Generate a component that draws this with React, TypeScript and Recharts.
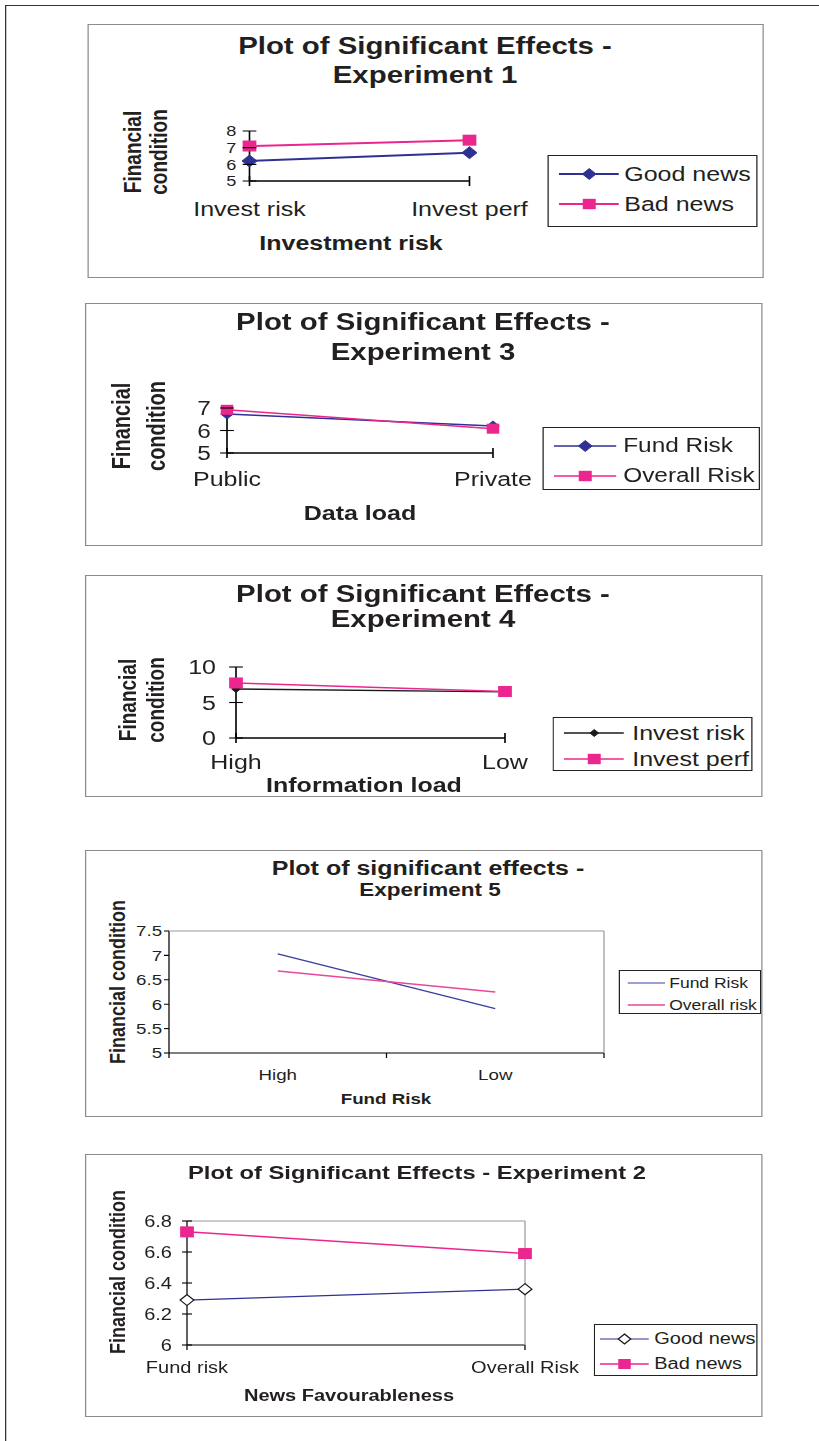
import React from 'react';
import { LineChart, Line, XAxis, YAxis } from 'recharts';

// the scanned figure is stretched sideways, so everything is drawn narrow and scaled by S
const S = 1.25;
const FONT = '"Liberation Sans", Arial, Helvetica, sans-serif';
const INK = '#231f20';
const NAVY = '#2e3192';
const MAGENTA = '#ec268f';

// Experiment 1
const exp1Categories = ['Invest risk', 'Invest perf'];
const exp1GoodNews = [6.2, 6.7];
const exp1BadNews = [7.1, 7.45];
const exp1Ticks = [5, 6, 7, 8];

// Experiment 3
const exp3Categories = ['Public', 'Private'];
const exp3FundRisk = [6.73, 6.2];
const exp3OverallRisk = [6.92, 6.08];
const exp3Ticks = [5, 6, 7];

// Experiment 4
const exp4Categories = ['High', 'Low'];
const exp4InvestRisk = [6.9, 6.5];
const exp4InvestPerf = [7.75, 6.55];
const exp4Ticks = [0, 5, 10];

// Experiment 5
const exp5Categories = ['High', 'Low'];
const exp5FundRisk = [7.03, 5.91];
const exp5OverallRisk = [6.68, 6.25];
const exp5Ticks = [5, 5.5, 6, 6.5, 7, 7.5];

// Experiment 2
const exp2Categories = ['Fund risk', 'Overall Risk'];
const exp2GoodNews = [6.29, 6.36];
const exp2BadNews = [6.73, 6.59];
const exp2Ticks = [6, 6.2, 6.4, 6.6, 6.8];

type Box = { l: number; t: number; r: number; b: number };
type Kind = 'diamond' | 'square' | 'hollow' | 'none';
type Series = { name: string; values: number[]; color: string; width: number; kind: Kind; size: number; legendSize: number };
type Label = { text: string; x: number; y: number; size: number };
type Panel = {
  box: Box;
  plot: Box;
  categories: string[];
  series: Series[];
  domain: [number, number];
  ticks: number[];
  framed: boolean;
  banded: boolean;
  tickFont: number;
  yTickFont: number;
  yOut: number;
  yIn: number;
  yGap: number;
  xUp: number;
  xDown: number;
  xDy: number;
  axisWidth: number;
  titles: Label[];
  xTitle: Label;
  yTitles: Label[];
  legend: { box: Box; rows: number[]; lineL: number; lineR: number; textX: number; size: number };
};

const panels: Panel[] = [
  {
    box: { l: 88, t: 24, r: 764, b: 278 },
    plot: { l: 250, t: 131, r: 470, b: 181 },
    categories: exp1Categories,
    series: [
      { name: 'Good news', values: exp1GoodNews, color: NAVY, width: 2, kind: 'diamond', size: 6, legendSize: 5.5 },
      { name: 'Bad news', values: exp1BadNews, color: MAGENTA, width: 2, kind: 'square', size: 5.5, legendSize: 5.2 },
    ],
    domain: [5, 8],
    ticks: exp1Ticks,
    framed: false,
    banded: false,
    tickFont: 20,
    yTickFont: 14.5,
    yOut: 5.5,
    yIn: 5.5,
    yGap: 10.5,
    xUp: 5,
    xDown: 5,
    xDy: 28,
    axisWidth: 1.3,
    titles: [
      { text: 'Plot of Significant Effects -', x: 425, y: 47, size: 23.5 },
      { text: 'Experiment 1', x: 425, y: 76, size: 23.5 },
    ],
    xTitle: { text: 'Investment risk', x: 351, y: 243, size: 20 },
    yTitles: [
      { text: 'Financial', x: 132, y: 152, size: 19 },
      { text: 'condition', x: 159, y: 152, size: 19 },
    ],
    legend: { box: { l: 548, t: 155, r: 758, b: 227 }, rows: [173, 203], lineL: 557, lineR: 618, textX: 623, size: 20 },
  },
  {
    box: { l: 85, t: 303, r: 763, b: 546 },
    plot: { l: 227, t: 408, r: 493, b: 453 },
    categories: exp3Categories,
    series: [
      { name: 'Fund Risk', values: exp3FundRisk, color: NAVY, width: 1.6, kind: 'diamond', size: 5, legendSize: 5.5 },
      { name: 'Overall Risk', values: exp3OverallRisk, color: MAGENTA, width: 1.6, kind: 'square', size: 5, legendSize: 5.2 },
    ],
    domain: [5, 7],
    ticks: exp3Ticks,
    framed: false,
    banded: false,
    tickFont: 20,
    yTickFont: 19.5,
    yOut: 5.5,
    yIn: 5.5,
    yGap: 13,
    xUp: 5,
    xDown: 5,
    xDy: 26,
    axisWidth: 1.3,
    titles: [
      { text: 'Plot of Significant Effects -', x: 423, y: 323, size: 23.5 },
      { text: 'Experiment 3', x: 423, y: 353, size: 23.5 },
    ],
    xTitle: { text: 'Data load', x: 360, y: 513, size: 20 },
    yTitles: [
      { text: 'Financial', x: 121, y: 426, size: 20 },
      { text: 'condition', x: 156, y: 426, size: 20 },
    ],
    legend: { box: { l: 543, t: 427, r: 760, b: 490 }, rows: [445, 475], lineL: 552, lineR: 615, textX: 622, size: 19.5 },
  },
  {
    box: { l: 85, t: 575, r: 763, b: 797 },
    plot: { l: 236, t: 667, r: 505, b: 738 },
    categories: exp4Categories,
    series: [
      { name: 'Invest risk', values: exp4InvestRisk, color: '#1a1a1a', width: 1.3, kind: 'diamond', size: 3.5, legendSize: 3.5 },
      { name: 'Invest perf', values: exp4InvestPerf, color: MAGENTA, width: 1.6, kind: 'square', size: 5.5, legendSize: 5.2 },
    ],
    domain: [0, 10],
    ticks: exp4Ticks,
    framed: false,
    banded: false,
    tickFont: 20,
    yTickFont: 20,
    yOut: 5.5,
    yIn: 5.5,
    yGap: 16,
    xUp: 5,
    xDown: 5,
    xDy: 24,
    axisWidth: 1.3,
    titles: [
      { text: 'Plot of Significant Effects -', x: 423, y: 595, size: 23.5 },
      { text: 'Experiment 4', x: 423, y: 620, size: 23.5 },
    ],
    xTitle: { text: 'Information load', x: 364, y: 785, size: 20 },
    yTitles: [
      { text: 'Financial', x: 127, y: 700, size: 19 },
      { text: 'condition', x: 156, y: 700, size: 19 },
    ],
    legend: { box: { l: 553, t: 717, r: 753, b: 771 }, rows: [732, 758], lineL: 562, lineR: 623, textX: 631, size: 20 },
  },
  {
    box: { l: 85, t: 850, r: 763, b: 1117 },
    plot: { l: 169, t: 931, r: 604, b: 1053 },
    categories: exp5Categories,
    series: [
      { name: 'Fund Risk', values: exp5FundRisk, color: '#3a40a0', width: 1.2, kind: 'none', size: 0, legendSize: 0 },
      { name: 'Overall risk', values: exp5OverallRisk, color: '#e8489c', width: 1.5, kind: 'none', size: 0, legendSize: 0 },
    ],
    domain: [5, 7.5],
    ticks: exp5Ticks,
    framed: true,
    banded: true,
    tickFont: 15,
    yTickFont: 15,
    yOut: 4,
    yIn: 0,
    yGap: 5.5,
    xUp: 0,
    xDown: 5,
    xDy: 22,
    axisWidth: 1,
    titles: [
      { text: 'Plot of significant effects -', x: 428, y: 868, size: 20 },
      { text: 'Experiment 5', x: 430, y: 890, size: 18 },
    ],
    xTitle: { text: 'Fund Risk', x: 386, y: 1098, size: 15 },
    yTitles: [{ text: 'Financial condition', x: 117, y: 982, size: 18 }],
    legend: { box: { l: 619, t: 970, r: 761, b: 1014 }, rows: [982, 1004], lineL: 626, lineR: 664, textX: 668, size: 14 },
  },
  {
    box: { l: 85, t: 1154, r: 763, b: 1417 },
    plot: { l: 187, t: 1221, r: 525, b: 1345 },
    categories: exp2Categories,
    series: [
      { name: 'Good news', values: exp2GoodNews, color: NAVY, width: 1.2, kind: 'hollow', size: 5.5, legendSize: 5 },
      { name: 'Bad news', values: exp2BadNews, color: MAGENTA, width: 1.5, kind: 'square', size: 5.5, legendSize: 5 },
    ],
    domain: [6, 6.8],
    ticks: exp2Ticks,
    framed: true,
    banded: false,
    tickFont: 16,
    yTickFont: 16,
    yOut: 4,
    yIn: 4,
    yGap: 12,
    xUp: 0,
    xDown: 5,
    xDy: 22,
    axisWidth: 1,
    titles: [{ text: 'Plot of Significant Effects - Experiment 2', x: 417, y: 1172, size: 19 }],
    xTitle: { text: 'News Favourableness', x: 349, y: 1396, size: 16 },
    yTitles: [{ text: 'Financial condition', x: 117, y: 1272, size: 18 }],
    legend: { box: { l: 594, t: 1324, r: 758, b: 1376 }, rows: [1338, 1363], lineL: 599, lineR: 648, textX: 653, size: 16 },
  },
];

function Marker({ kind, cx, cy, r, color }: { kind: Kind; cx: number; cy: number; r: number; color: string }) {
  if (kind === 'diamond' || kind === 'hollow') {
    const pts = `${cx},${cy - r} ${cx + r},${cy} ${cx},${cy + r} ${cx - r},${cy}`;
    return kind === 'diamond'
      ? <polygon points={pts} fill={color} stroke={color} strokeWidth={0.8} />
      : <polygon points={pts} fill="#fff" stroke="#1a1a1a" strokeWidth={1.1} />;
  }
  if (kind === 'square') return <rect x={cx - r} y={cy - r} width={2 * r} height={2 * r} fill={color} />;
  return null;
}

function Txt({ l, rotate, bold = true }: { l: Label; rotate?: boolean; bold?: boolean }) {
  return (
    <div
      style={{
        position: 'absolute',
        left: l.x / S,
        top: l.y,
        transform: `translate(-50%, -50%)${rotate ? ' rotate(-90deg)' : ''}`,
        fontSize: l.size,
        fontWeight: bold ? 700 : 400,
        lineHeight: 1,
        whiteSpace: 'nowrap',
        color: INK,
        fontFamily: FONT,
      }}
    >
      {l.text}
    </div>
  );
}

// axes need a non-zero size or Recharts skips them
const AX = 1;

function ChartPanel({ p }: { p: Panel }) {
  const { box, plot } = p;
  const w = (box.r - box.l) / S;
  const h = box.b - box.t;
  const band = (plot.r - plot.l) / S / p.categories.length;
  const pad = p.banded ? band / 2 : 0;
  const margin = {
    top: plot.t - box.t - (p.framed ? AX : 0),
    bottom: box.b - plot.b - AX,
    left: (plot.l - box.l) / S - AX,
    right: (box.r - plot.r) / S - (p.framed ? AX : 0),
  };
  const data = p.categories.map((cat, i) => {
    const row: Record<string, string | number> = { cat };
    p.series.forEach((s) => {
      row[s.name] = s.values[i];
    });
    return row;
  });

  const yTick = (t: any) => (
    <g>
      {p.yOut + p.yIn > 0 && (
        <line x1={t.x - p.yOut} x2={t.x + p.yIn} y1={t.y} y2={t.y} stroke="#000" strokeWidth={1.1} />
      )}
      <text x={t.x - p.yGap} y={t.y} dy="0.36em" textAnchor="end" fontSize={p.yTickFont} fontFamily={FONT} fill={INK}>
        {t.payload.value}
      </text>
    </g>
  );

  const xTick = (t: any) => {
    const marks = p.banded
      ? [t.x - band / 2, ...(t.index === p.categories.length - 1 ? [t.x + band / 2] : [])]
      : [t.x];
    return (
      <g>
        {marks.map((m, i) => (
          <line key={i} x1={m} x2={m} y1={t.y - p.xUp} y2={t.y + p.xDown} stroke="#000" strokeWidth={p.axisWidth} />
        ))}
        <text x={t.x} y={t.y + p.xDy} dy="0.36em" textAnchor="middle" fontSize={p.tickFont} fontFamily={FONT} fill={INK}>
          {t.payload.value}
        </text>
      </g>
    );
  };

  const lg = p.legend;
  const lgW = (lg.box.r - lg.box.l) / S;
  const iconW = (lg.lineR - lg.lineL) / S;

  return (
    <>
      <div
        style={{
          position: 'absolute',
          left: box.l / S,
          top: box.t,
          width: w,
          height: h,
          boxSizing: 'border-box',
          border: '1px solid #8c8c8c',
          background: '#fff',
        }}
      />
      <div style={{ position: 'absolute', left: box.l / S, top: box.t }}>
        <LineChart width={w} height={h} data={data} margin={margin}>
          <XAxis
            dataKey="cat"
            height={AX}
            interval={0}
            padding={{ left: pad, right: pad }}
            tickSize={0}
            tickMargin={0}
            tick={xTick}
            axisLine={{ stroke: '#000', strokeWidth: p.axisWidth }}
          />
          <YAxis
            type="number"
            width={AX}
            domain={p.domain}
            ticks={p.ticks}
            interval={0}
            tickSize={0}
            tickMargin={0}
            tick={yTick}
            axisLine={{ stroke: '#000', strokeWidth: p.axisWidth }}
          />
          {p.framed && (
            <XAxis
              xAxisId="top"
              orientation="top"
              dataKey="cat"
              height={AX}
              padding={{ left: pad, right: pad }}
              tick={false}
              tickLine={false}
              axisLine={{ stroke: '#9a9a9a', strokeWidth: 1 }}
            />
          )}
          {p.framed && (
            <YAxis
              yAxisId="right"
              orientation="right"
              type="number"
              width={AX}
              domain={p.domain}
              tick={false}
              tickLine={false}
              axisLine={{ stroke: '#9a9a9a', strokeWidth: 1 }}
            />
          )}
          {p.series.map((s) => (
            <Line
              key={s.name}
              type="linear"
              dataKey={s.name}
              stroke={s.color}
              strokeWidth={s.width}
              isAnimationActive={false}
              activeDot={false}
              dot={
                s.kind === 'none'
                  ? false
                  : (d: any) => <Marker key={`${s.name}-${d.index}`} kind={s.kind} cx={d.cx} cy={d.cy} r={s.size} color={s.color} />
              }
            />
          ))}
        </LineChart>
      </div>

      {p.titles.map((t) => (
        <Txt key={t.text} l={t} />
      ))}
      <Txt l={p.xTitle} />
      {p.yTitles.map((t) => (
        <Txt key={t.text} l={t} rotate />
      ))}

      <div
        style={{
          position: 'absolute',
          left: lg.box.l / S,
          top: lg.box.t,
          width: lgW,
          height: lg.box.b - lg.box.t,
          boxSizing: 'border-box',
          border: '1.5px solid #222',
          background: '#fff',
        }}
      >
        {p.series.map((s, i) => {
          const cy = lg.rows[i] - lg.box.t;
          return (
            <React.Fragment key={s.name}>
              <svg
                width={iconW}
                height={16}
                style={{ position: 'absolute', left: (lg.lineL - lg.box.l) / S, top: cy - 8 }}
              >
                <line x1={0} x2={iconW} y1={8} y2={8} stroke={s.color} strokeWidth={s.width} />
                <Marker kind={s.kind} cx={iconW / 2} cy={8} r={s.legendSize} color={s.color} />
              </svg>
              <div
                style={{
                  position: 'absolute',
                  left: (lg.textX - lg.box.l) / S,
                  top: cy,
                  transform: 'translateY(-50%)',
                  fontSize: lg.size,
                  lineHeight: 1,
                  whiteSpace: 'nowrap',
                  color: INK,
                  fontFamily: FONT,
                }}
              >
                {s.name}
              </div>
            </React.Fragment>
          );
        })}
      </div>
    </>
  );
}

export default function App() {
  return (
    <div style={{ position: 'absolute', left: 0, top: 0, width: 819, height: 1441, overflow: 'hidden', background: '#fff' }}>
      <div
        style={{
          position: 'absolute',
          left: 0,
          top: 0,
          width: 819 / S,
          height: 1441,
          transform: `scaleX(${S})`,
          transformOrigin: '0 0',
          fontFamily: FONT,
        }}
      >
        <div
          style={{
            position: 'absolute',
            left: 5 / S,
            top: 5,
            width: 819 / S,
            height: 1441,
            borderTop: '1.5px solid #333',
            borderLeft: '1.5px solid #333',
          }}
        />
        {panels.map((p, i) => (
          <ChartPanel key={i} p={p} />
        ))}
      </div>
    </div>
  );
}
